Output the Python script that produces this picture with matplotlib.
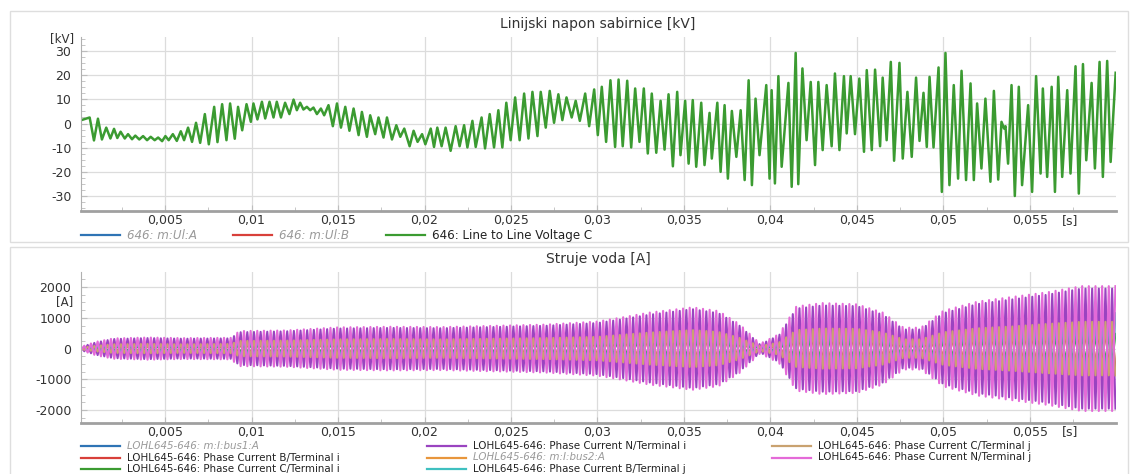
import numpy as np
import matplotlib
matplotlib.use("Agg")
import matplotlib.pyplot as plt
from matplotlib.lines import Line2D
from matplotlib.patches import Rectangle
from matplotlib.ticker import FuncFormatter, MultipleLocator

plt.rcParams['font.family'] = ['DejaVu Sans']
plt.rcParams['axes.unicode_minus'] = False

# ---- line-to-line voltage C: successive extremes (ms, kV)
volt_t_ms = [0.16, 0.64, 0.89, 1.12, 1.35, 1.60, 1.84, 2.05, 2.24, 2.43, 2.67, 2.86, 3.09, 3.28,
             3.51, 3.73, 3.96, 4.17, 4.40, 4.60, 4.83, 5.02, 5.21, 5.45, 5.68, 5.91, 6.10, 6.33,
             6.56, 6.79, 7.03, 7.30, 7.53, 7.84, 8.03, 8.30, 8.55, 8.76, 9.03, 9.22, 9.46, 9.71,
             9.96, 10.11, 10.34, 10.60, 10.79, 11.04, 11.27, 11.46, 11.70, 11.94, 12.19, 12.43,
             12.62, 12.81, 13.00, 13.20, 13.39, 13.58, 13.78, 14.01, 14.20, 14.45, 14.70, 14.94,
             15.17, 15.42, 15.66, 15.90, 16.19, 16.38, 16.67, 16.86, 17.15, 17.34, 17.63, 17.83,
             18.12, 18.37, 18.60, 18.83, 19.14, 19.37, 19.60, 19.86, 20.05, 20.36, 20.55, 20.74,
             20.99, 21.22, 21.51, 21.80, 22.03, 22.29, 22.48, 22.77, 22.96, 23.30, 23.50, 23.77,
             24.02, 24.27, 24.50, 24.73, 24.98, 25.24, 25.50, 25.76, 26.01, 26.24, 26.53, 26.72,
             27.01, 27.24, 27.49, 27.74, 27.97, 28.21, 28.51, 28.74, 28.98, 29.29, 29.52, 29.81,
             30.02, 30.25, 30.50, 30.75, 31.02, 31.22, 31.46, 31.72, 31.95, 32.18, 32.43, 32.68,
             32.91, 33.14, 33.40, 33.65, 33.88, 34.11, 34.36, 34.61, 34.80, 35.07, 35.27, 35.51,
             35.71, 36.00, 36.19, 36.48, 36.61, 36.93, 37.12, 37.35, 37.54, 37.77, 38.03, 38.28,
             38.51, 38.74, 38.93, 39.14, 39.37, 39.76, 39.95, 40.07, 40.26, 40.46, 40.65, 41.04,
             41.23, 41.46, 41.61, 41.85, 42.09, 42.33, 42.58, 42.77, 43.02, 43.25, 43.54, 43.73,
             43.99, 44.25, 44.41, 44.64, 44.89, 45.14, 45.41, 45.57, 45.86, 46.05, 46.34, 46.49,
             46.72, 46.96, 47.15, 47.46, 47.65, 47.92, 48.17, 48.42, 48.62, 48.85, 49.04, 49.20,
             49.43, 49.72, 49.91, 50.12, 50.35, 50.60, 50.85, 51.05, 51.31, 51.57, 51.76, 51.95,
             52.20, 52.43, 52.72, 52.92, 53.17, 53.36, 53.51, 53.59, 53.74, 53.94, 54.13, 54.36,
             54.55, 54.90, 55.13, 55.36, 55.62, 55.75, 56.00, 56.26, 56.45, 56.64, 56.87, 57.16,
             57.35, 57.64, 57.83, 58.07, 58.26, 58.57, 58.76, 59.03, 59.22, 59.47, 59.67, 59.96]
volt_kv = [1.4, 2.5, -7, 2, -6.6, -1.7, -6.2, -2.2, -6, -3.4, -6.2, -4.4, -6.5, -5,
           -6.6, -5.2, -6.9, -5.5, -6.9, -5.8, -7.3, -5.2, -6.9, -4.4, -7.2, -3.2, -6.9, -1.7,
           -7.6, 0.3, -8, 3.9, -8.6, 6.9, -7.7, 8, -6.9, 8.3, -6.3, 6.9, -2.8, 8,
           0.7, 8.3, 1.7, 9.0, 2.1, 9.0, 2.5, 9.0, 2.5, 8.6, 3.9, 9.9,
           5.5, 8.6, 5.8, 6.9, 5.5, 6.6, 3.9, 6.2, 3.4, 7.6, -1.1, 8.3,
           -1.7, 6.9, -3.0, 6.2, -4.8, 4.8, -5.5, 3.4, -4.4, 2.5, -5.8, 2.5,
           -6.6, -0.7, -5.5, -2.1, -9.4, -3.0, -7.6, -4.4, -8.6, -2.1, -9.7, -1.7,
           -9.4, -1.7, -11.3, -1.1, -9.4, -0.7, -9.9, 1.1, -9.7, 2.5, -10.3, 3.9,
           -9.9, 5.5, -9.9, 8.6, -6.9, 10.8, -6.9, 12.4, -6.2, 13.1, -5.2, 13.1,
           -1.7, 13.5, 0.3, 12.1, 1.4, 10.8, 2.5, 9.4, 1.1, 12.4, -1.1, 14.1,
           -4.8, 15.2, -7.6, 17.9, -9.7, 18.2, -9.4, 17.7, -9.9, 14.5, -7.6, 14.5,
           -12.4, 12.4, -12.1, 9.4, -10.8, 12.1, -17.7, 13.1, -13.1, 9.4, -16.6, 9.7,
           -17.9, 8.6, -17.2, 4.4, -14.5, 8.6, -20, 7.6, -22.8, 5.2, -13.8, 5.5,
           -23.4, 17.9, -25.5, 10.3, -13.1, 15.9, -22.8, 13.8, -24.8, 19.6, -17.9, 16.8,
           -26.2, 29.2, -25.1, 22.8, -6.9, 17.2, -17.2, 17.2, -11, 15.9, -9.4, 20.7,
           -11, 19.6, -4.1, 19.6, -4.4, 18.6, -11.7, 22.1, -11, 22.3, -9.4, 19,
           -6.9, 25.5, -15.4, 25.1, -14.5, 13.1, -13.8, 19, -7.2, 12.7, -9.7, 19.3,
           -9.9, 23.2, -28.3, 29.2, -25.5, 15.9, -22.8, 21.8, -23.4, 16.6, -23.4, 8.3,
           -18.6, 10.3, -24.1, 13.5, -23.2, 0.7, -2.1, -1.1, -16.6, 15.9, -30, 15.2,
           -25.5, 7.6, -28.3, 19.6, -20.7, 14.5, -22.1, 15.2, -28.3, 19.3, -22.1, 13.8,
           -20.7, 23.7, -29, 24.6, -15.2, 16.8, -18.6, 25.5, -22.1, 25.9, -15.9, 21]

# ---- line currents: envelope (peak amplitude, A)
cur_t_ms = [0, 1, 2, 4, 6, 8.8, 9.3, 12, 15, 18, 21, 24, 27, 30, 31.5, 33, 35.5, 37, 38.2,
            39.4, 40.5, 41.5, 43, 45, 46.5, 47.7, 48.7, 50, 52, 54, 56, 58, 60]
amp_n_i = [30, 200, 310, 340, 320, 330, 530, 560, 650, 670, 660, 700, 740, 830, 960, 1100,
           1280, 1150, 750, 130, 430, 1300, 1400, 1380, 1100, 620, 620, 1150, 1450, 1600,
           1750, 1950, 1950]
amp_n_j = [30, 220, 330, 360, 340, 350, 570, 590, 690, 710, 700, 740, 780, 880, 1020, 1170,
           1340, 1220, 800, 160, 470, 1370, 1480, 1440, 1170, 680, 680, 1230, 1530, 1680,
           1830, 2030, 2030]
amp_b_j = [20, 120, 180, 200, 190, 200, 330, 340, 400, 410, 400, 420, 450, 500, 600, 700,
           800, 720, 470, 100, 280, 800, 850, 850, 680, 400, 400, 700, 880, 950, 1050, 1150,
           1150]
amp_c_j = [15, 90, 140, 150, 140, 150, 250, 260, 300, 310, 300, 320, 340, 380, 450, 520,
           600, 540, 350, 80, 200, 600, 650, 640, 520, 300, 300, 530, 660, 720, 800, 870, 870]
amp_b_i = [10, 70, 110, 120, 110, 120, 190, 200, 230, 240, 230, 245, 260, 290, 340, 400,
           460, 420, 270, 60, 160, 460, 500, 490, 400, 230, 230, 400, 500, 550, 610, 670, 670]
amp_c_i = [8, 50, 80, 90, 80, 85, 140, 145, 170, 175, 170, 180, 190, 215, 250, 290, 330,
           300, 195, 40, 110, 330, 360, 355, 290, 165, 165, 290, 360, 400, 440, 480, 480]
cur_freq_hz = 2600   # oscillation counted in the picture (~13 spikes per 5 ms)

W, H = 1131, 474
fig = plt.figure(figsize=(W / 100, H / 100), dpi=100)
TXT = '#333333'


def fx(x):
    return x / W


def fy(y):
    return 1 - y / H


# panel frames
for (x0, y0, x1, y1) in [(10, 11, 1128, 242), (10, 247, 1128, 490)]:
    fig.add_artist(Rectangle((fx(x0), fy(y1)), fx(x1 - x0), (y1 - y0) / H,
                             transform=fig.transFigure, fill=False,
                             edgecolor='#dedede', lw=1))

ax1 = fig.add_axes([fx(81), fy(211), fx(1035), 174 / H])
ax2 = fig.add_axes([fx(81), fy(423), fx(1035), 151 / H])

comma = FuncFormatter(lambda v, p: f"{v:g}".replace('.', ','))
for ax in (ax1, ax2):
    ax.set_xlim(0.00014, 0.05998)
    ax.set_xticks(np.arange(0.005, 0.0551, 0.005))
    ax.xaxis.set_major_formatter(comma)
    ax.xaxis.set_minor_locator(MultipleLocator(0.0025))
    ax.grid(True, which='major', color='#dcdcdc', lw=0.9)
    ax.set_axisbelow(True)
    for s in ('top', 'right'):
        ax.spines[s].set_visible(False)
    ax.spines['left'].set_color('#b0b0b0')
    ax.spines['left'].set_linewidth(0.8)
    ax.spines['bottom'].set_color('#a0a0a0')
    ax.spines['bottom'].set_linewidth(2)
    ax.tick_params(axis='both', which='both', direction='in', color='#bdbdbd',
                   labelsize=9, labelcolor=TXT)
    ax.tick_params(axis='both', which='major', length=4)
    ax.tick_params(axis='both', which='minor', length=3)
    ax.tick_params(axis='x', pad=2)
    ax.tick_params(axis='y', pad=7)
    ax.text(0.0573, -0.015, '[s]', transform=ax.get_xaxis_transform(),
            ha='center', va='top', fontsize=9, color=TXT)

# top panel
ax1.set_ylim(-36.2, 35.8)
ax1.set_yticks([-30, -20, -10, 0, 10, 20, 30])
ax1.yaxis.set_minor_locator(MultipleLocator(2.5))
ax1.plot(np.array(volt_t_ms) / 1000, volt_kv, color='#3b9b31', lw=1.8)
fig.text(fx(598), fy(24), 'Linijski napon sabirnice [kV]', ha='center', va='center',
         fontsize=10, color=TXT)
fig.text(fx(74), fy(39), '[kV]', ha='right', va='center', fontsize=8.5, color=TXT)

# bottom panel
ax2.set_ylim(-2420, 2490)
ax2.set_yticks([-2000, -1000, 0, 1000, 2000])
ax2.yaxis.set_minor_locator(MultipleLocator(250))
half = 1.0 / (2 * cur_freq_hz)
t_pk = np.arange(0.00014, 0.05998, half)
alt = np.where(np.arange(len(t_pk)) % 2 == 0, 1.0, -1.0)
env_t = np.array(cur_t_ms) / 1000
traces = [(amp_b_i, 1, '#d8403a'), (amp_c_i, -1, '#3b9b31'), (amp_n_i, 1, '#9a44c0'),
          (amp_b_j, -1, '#3fc0c0'), (amp_c_j, 1, '#c9a270'), (amp_n_j, -1, '#e46ad8')]
for amp, sgn, col in traces:
    ax2.plot(t_pk, sgn * alt * np.interp(t_pk, env_t, amp), color=col, lw=1.5)
fig.text(fx(598), fy(259), 'Struje voda [A]', ha='center', va='center',
         fontsize=10, color=TXT)
fig.text(fx(73), fy(302), '[A]', ha='right', va='center', fontsize=8.5, color=TXT)


# legends drawn in figure pixels
def legend_entry(x, y, color, label, hidden, size):
    fig.add_artist(Line2D([fx(x), fx(x + 39)], [fy(y), fy(y)], transform=fig.transFigure,
                          color=color, lw=1.6))
    fig.text(fx(x + 46), fy(y), label, ha='left', va='center', fontsize=size,
             color='#9a9a9a' if hidden else '#222222',
             style='italic' if hidden else 'normal')


legend_entry(81, 235, '#2f74b5', '646: m:Ul:A', True, 8.6)
legend_entry(233, 235, '#d8403a', '646: m:Ul:B', True, 8.6)
legend_entry(386, 235, '#3b9b31', '646: Line to Line Voltage C', False, 8.6)

rows = [446, 457.5, 469]
fs = 7.4
legend_entry(81, rows[0], '#2f74b5', 'LOHL645-646: m:I:bus1:A', True, fs)
legend_entry(81, rows[1], '#d8403a', 'LOHL645-646: Phase Current B/Terminal i', False, fs)
legend_entry(81, rows[2], '#3b9b31', 'LOHL645-646: Phase Current C/Terminal i', False, fs)
legend_entry(427, rows[0], '#9a44c0', 'LOHL645-646: Phase Current N/Terminal i', False, fs)
legend_entry(427, rows[1], '#e8963c', 'LOHL645-646: m:I:bus2:A', True, fs)
legend_entry(427, rows[2], '#3fc0c0', 'LOHL645-646: Phase Current B/Terminal j', False, fs)
legend_entry(772, rows[0], '#c9a270', 'LOHL645-646: Phase Current C/Terminal j', False, fs)
legend_entry(772, rows[1], '#e46ad8', 'LOHL645-646: Phase Current N/Terminal j', False, fs)

fig.savefig('out.png', dpi=100)
